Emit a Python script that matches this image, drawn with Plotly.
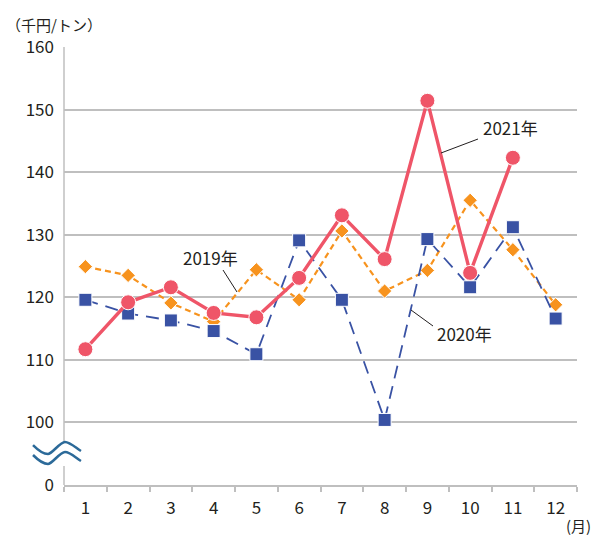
import plotly.graph_objects as go

months = [str(m) for m in range(1, 13)]
y2019 = [124.9, 123.5, 119.1, 116.1, 124.4, 119.6, 130.6, 121.0, 124.3, 135.5, 127.6, 118.8]
y2020 = [119.6, 117.4, 116.3, 114.6, 110.9, 129.1, 119.6, 100.4, 129.3, 121.6, 131.2, 116.6]
y2021 = [111.7, 119.2, 121.6, 117.5, 116.8, 123.1, 133.1, 126.1, 151.4, 123.9, 142.3, None]

tick_vals = [90, 100, 110, 120, 130, 140, 150, 160]
tick_text = ["0", "100", "110", "120", "130", "140", "150", "160"]

W, H = 593, 536
L, R, T, B = 64, 16, 47, 51
PW, PH = W - L - R, H - T - B

def px(x):
    return (x - L) / PW

def py(y):
    return (H - B - y) / PH

FONT = "Noto Sans CJK JP, Noto Sans, sans-serif"
TXT = "#231f20"
GRID = "#bfbfbf"

fig = go.Figure()
fig.add_trace(go.Scatter(
    x=months, y=y2019, mode="lines+markers", name="2019年",
    line=dict(color="#f7931e", width=2.2, dash="6px,4px"),
    marker=dict(symbol="diamond", size=11, color="#f7931e", line=dict(color="white", width=1)),
))
fig.add_trace(go.Scatter(
    x=months, y=y2020, mode="lines+markers", name="2020年",
    line=dict(color="#3952a4", width=1.8, dash="13px,8px"),
    marker=dict(symbol="square", size=13, color="#3952a4", line=dict(color="white", width=1)),
))
fig.add_trace(go.Scatter(
    x=months, y=y2021, mode="lines+markers", name="2021年",
    line=dict(color="#ef5568", width=3.4),
    marker=dict(symbol="circle", size=15, color="#ef5568", line=dict(color="white", width=1)),
))

shapes = []
# y-axis line with break
shapes.append(dict(type="line", xref="paper", yref="paper", x0=0, x1=0, y0=1, y1=py(442),
                   line=dict(color=GRID, width=1.5)))
shapes.append(dict(type="line", xref="paper", yref="paper", x0=0, x1=0, y0=py(466), y1=0,
                   line=dict(color=GRID, width=1.5)))
# break symbol (two waves)
for dy in (0, 10):
    p = "M {:.4f},{:.4f} C {:.4f},{:.4f} {:.4f},{:.4f} {:.4f},{:.4f} S {:.4f},{:.4f} {:.4f},{:.4f} S {:.4f},{:.4f} {:.4f},{:.4f}".format(
        px(33), py(445 + dy),
        px(40), py(452 + dy), px(44), py(454 + dy), px(48), py(454 + dy),
        px(60), py(442 + dy), px(65), py(442 + dy),
        px(76), py(448 + dy), px(81), py(451 + dy))
    shapes.append(dict(type="path", xref="paper", yref="paper", path=p,
                       line=dict(color="#2c6a99", width=2.5)))
# leader lines
for (x0, y0, x1, y1) in [(441, 153, 478, 139), (223, 270, 237, 292), (411, 310, 433, 326)]:
    shapes.append(dict(type="line", xref="paper", yref="paper", x0=px(x0), y0=py(y0), x1=px(x1), y1=py(y1),
                       line=dict(color="#231f20", width=1)))

annotations = [
    dict(text="2021年", x=px(510), y=py(128)),
    dict(text="2019年", x=px(210), y=py(257)),
    dict(text="2020年", x=px(464), y=py(333)),
    dict(text="（千円/トン）", x=px(54), y=py(25), size=15),
]
anns = []
for a in annotations:
    anns.append(dict(text=a["text"], x=a["x"], y=a["y"], xref="paper", yref="paper",
                     showarrow=False, xanchor="center", yanchor="middle", borderpad=0,
                     font=dict(family=FONT, size=a.get("size", 17), color=TXT)))
anns.append(dict(text="(月)", x=px(592), y=py(525), xref="paper", yref="paper",
                 showarrow=False, xanchor="right", yanchor="middle", borderpad=0,
                 font=dict(family=FONT, size=15, color=TXT)))

fig.update_layout(
    width=W, height=H,
    margin=dict(l=L, r=R, t=T, b=B, pad=0),
    paper_bgcolor="white", plot_bgcolor="white",
    showlegend=False,
    shapes=shapes, annotations=anns,
    font=dict(family=FONT, size=17, color=TXT),
)
fig.update_xaxes(
    type="category", range=[-0.5, 11.5], tickson="boundaries",
    ticks="outside", ticklen=5, tickcolor=GRID, tickwidth=1.5,
    showline=True, linecolor=GRID, linewidth=1.5, showgrid=False,
    tickfont=dict(family=FONT, size=17, color=TXT), ticklabelstandoff=7,
)
fig.update_yaxes(
    range=[90, 160], tickvals=tick_vals, ticktext=tick_text,
    showgrid=True, gridcolor=GRID, gridwidth=1.5, showline=False, zeroline=False,
    ticks="", tickfont=dict(family=FONT, size=17, color=TXT), ticklabelstandoff=9,
)

fig.write_html("out.html", config={"displayModeBar": False},
               post_script="document.body.style.margin='0';document.body.style.overflow='hidden';")
